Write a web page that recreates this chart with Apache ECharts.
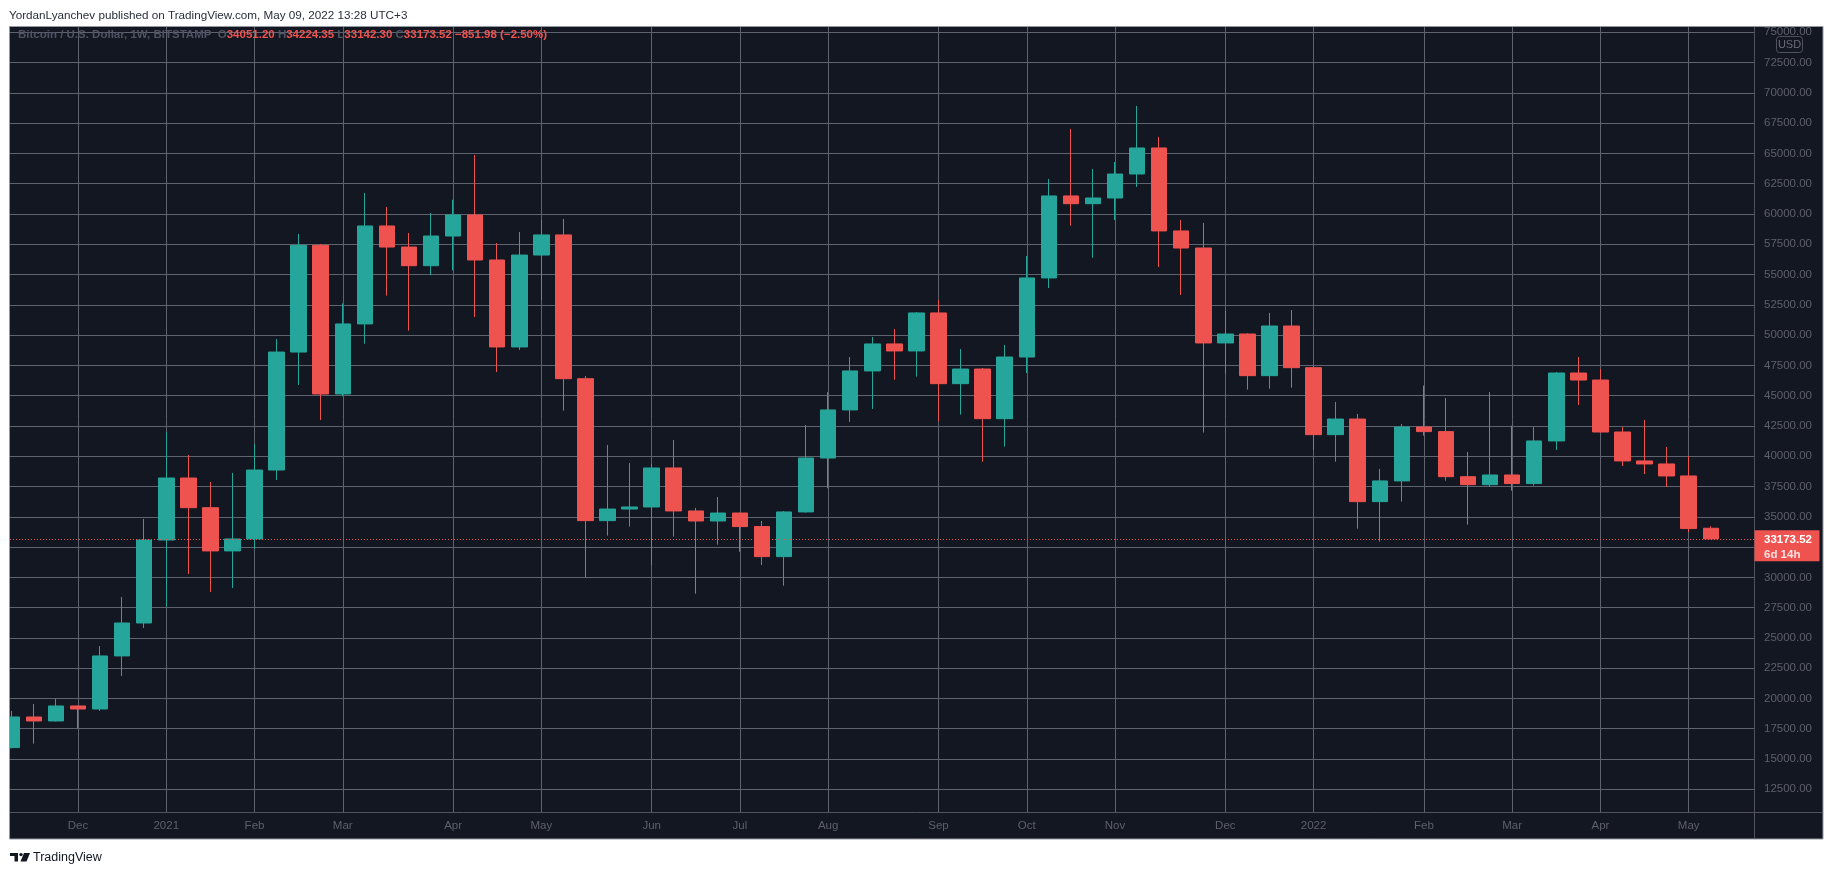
<!DOCTYPE html>
<html>
<head>
<meta charset="utf-8">
<title>BTCUSD 1W</title>
<script src="https://cdn.jsdelivr.net/npm/echarts@6/dist/echarts.min.js"></script>
<style>
  html, body { margin: 0; padding: 0; background: #fff; }
  #main { width: 1834px; height: 875px; }
</style>
</head>
<body>
<div id="main"></div>
<script>
// 周线日期（每根K线的开盘周一）
const weeks = [
  '2020-11-16','2020-11-23','2020-11-30','2020-12-07','2020-12-14','2020-12-21','2020-12-28',
  '2021-01-04','2021-01-11','2021-01-18','2021-01-25','2021-02-01','2021-02-08','2021-02-15','2021-02-22',
  '2021-03-01','2021-03-08','2021-03-15','2021-03-22','2021-03-29','2021-04-05','2021-04-12','2021-04-19','2021-04-26',
  '2021-05-03','2021-05-10','2021-05-17','2021-05-24','2021-05-31','2021-06-07','2021-06-14','2021-06-21','2021-06-28',
  '2021-07-05','2021-07-12','2021-07-19','2021-07-26','2021-08-02','2021-08-09','2021-08-16','2021-08-23','2021-08-30',
  '2021-09-06','2021-09-13','2021-09-20','2021-09-27','2021-10-04','2021-10-11','2021-10-18','2021-10-25',
  '2021-11-01','2021-11-08','2021-11-15','2021-11-22','2021-11-29','2021-12-06','2021-12-13','2021-12-20','2021-12-27',
  '2022-01-03','2022-01-10','2022-01-17','2022-01-24','2022-01-31','2022-02-07','2022-02-14','2022-02-21','2022-02-28',
  '2022-03-07','2022-03-14','2022-03-21','2022-03-28','2022-04-04','2022-04-11','2022-04-18','2022-04-25','2022-05-02','2022-05-09'
];
const opens = [
  15940,18470,18140,19380,19130,23510,26230,33080,38200,35750,
  32180,33170,38860,48600,57410,45140,50920,59010,57270,55730,
  58180,59920,56200,49020,56610,58270,46400,34680,35640,35810,
  39030,35480,34650,35310,34190,31710,35400,39850,43820,47040,
  49270,48690,51830,45990,47200,43100,48190,54720,61490,60850,
  61320,63300,65450,58600,57190,49350,50090,46650,50750,47310,
  41780,43070,36250,37960,42410,42030,38310,37650,38450,37740,
  41260,46870,46290,42000,39610,39360,38370,34051.20
];
const highs = [
  18970,19540,19960,19420,24330,28380,34820,42000,40100,37870,
  38620,41010,49680,58350,57520,52620,61730,60580,58430,60080,
  61180,64870,57600,58510,59530,59590,46620,40930,39440,39360,
  41340,35730,36630,35330,34650,35480,42580,45280,48190,49840,
  50500,51910,52900,48850,47290,49180,56530,62890,67020,63710,
  64290,68920,66360,59500,59260,51990,50150,51830,52070,47500,
  44480,43490,38950,42660,45830,44810,40350,45300,42520,42410,
  46950,48190,47200,42410,42990,40760,40020,34224.35
];
const lows = [
  15880,16270,18100,17540,18970,21860,25820,27580,30280,28790,
  29120,32340,38040,45880,42990,44950,49290,53260,50370,54940,
  55350,51500,46950,48770,52900,43760,30030,33440,34190,31020,
  33360,28650,32700,32120,31020,29310,35340,37350,42830,43900,
  46320,46570,42910,43430,39550,40790,46870,53890,59040,56390,
  59500,62230,55620,53310,41950,46820,45500,45580,45660,40540,
  39550,34020,32950,36250,41700,37980,34350,37490,37160,37570,
  40520,44230,41950,39190,38530,37460,33740,33142.30
];
const closes = [
  18470,18140,19380,19130,23510,26230,33080,38200,35750,32180,
  33170,38860,48600,57410,45140,50920,59010,57270,55730,58180,
  59920,56200,49020,56610,58270,46400,34680,35640,35810,39030,
  35480,34650,35310,34190,31710,35400,39850,43820,47040,49270,
  48690,51830,45990,47200,43100,48190,54720,61490,60850,61320,
  63300,65450,58600,57190,49350,50090,46650,50750,47310,41780,
  43070,36250,37960,42410,42030,38310,37650,38450,37740,41260,
  46870,46290,42000,39610,39360,38370,34025.50,33173.52
];
const priceTicks = [12500,15000,17500,20000,22500,25000,27500,30000,32500,35000,37500,
  40000,42500,45000,47500,50000,52500,55000,57500,60000,62500,65000,67500,70000,72500,75000];
const monthNames = ['Jan','Feb','Mar','Apr','May','Jun','Jul','Aug','Sep','Oct','Nov','Dec'];

// 每个月第一根K线处画时间刻度
const monthTicks = [];
const monthLabels = {};
weeks.forEach((w, i) => {
  if (i === 0) return;
  const m = +w.slice(5, 7);
  if (m !== +weeks[i - 1].slice(5, 7)) {
    monthTicks.push(i);
    monthLabels[i] = m === 1 ? w.slice(0, 4) : monthNames[m - 1];
  }
});

const candles = weeks.map((w, i) => [i, opens[i], closes[i], lows[i], highs[i]]);
const last = weeks.length - 1;
const lastClose = closes[last];
const change = lastClose - closes[last - 1];
const pct = change / closes[last - 1] * 100;
const fmt = v => v.toFixed(2).replace('-', '\u2212');

const UP = '#26a69a';
const DOWN = '#ef5350';
const FONT = 'Liberation Sans';
const GRID_LEFT = 10, GRID_TOP = 27, GRID_RIGHT = 1754, GRID_BOTTOM = 812;

const chart = echarts.init(document.getElementById('main'));

const staticGraphics = [
  {
    id: 'pane', type: 'rect', z: -100, silent: true,
    shape: { x: 9.5, y: 26.5, width: 1813.5, height: 812.5 },
    style: { fill: '#131722' }
  },
  // 左侧遮挡被裁掉的半根K线
  {
    id: 'maskLeft', type: 'rect', zlevel: 1, silent: true,
    shape: { x: 0, y: 20, width: 9.5, height: 830 },
    style: { fill: '#ffffff' }
  },
  {
    id: 'paneBorder', type: 'rect', zlevel: 1, silent: true,
    shape: { x: 9.5, y: 26.5, width: 1813.5, height: 812.5 },
    style: { fill: null, stroke: '#9598a1', lineWidth: 1 }
  },
  {
    id: 'sepV', type: 'line', zlevel: 1, silent: true,
    shape: { x1: GRID_RIGHT + 0.5, y1: 27, x2: GRID_RIGHT + 0.5, y2: 839 },
    style: { stroke: '#50535e', lineWidth: 1 }
  },
  {
    id: 'sepH', type: 'line', zlevel: 1, silent: true,
    shape: { x1: 10, y1: GRID_BOTTOM + 0.5, x2: 1823, y2: GRID_BOTTOM + 0.5 },
    style: { stroke: '#50535e', lineWidth: 1 }
  },
  {
    id: 'header', type: 'text', silent: true,
    style: {
      x: 9, y: 15.5, text: 'YordanLyanchev published on TradingView.com, May 09, 2022 13:28 UTC+3',
      fill: '#2a2e39', font: '11.7px "' + FONT + '"', verticalAlign: 'middle'
    }
  },
  {
    id: 'usdBox', type: 'rect', zlevel: 1, silent: true,
    shape: { x: 1776.5, y: 36.5, width: 26, height: 16, r: 3 },
    style: { fill: '#131722', stroke: '#50535e', lineWidth: 1 }
  },
  {
    id: 'usdText', type: 'text', zlevel: 1, z: 5, silent: true,
    style: {
      x: 1789.5, y: 44.5, text: 'USD', fill: '#6a6d78',
      font: '11px "' + FONT + '"', align: 'center', verticalAlign: 'middle'
    }
  },
  // TradingView 标志
  {
    id: 'logo', type: 'group', silent: true,
    children: [
      { type: 'rect', shape: { x: 10, y: 853, width: 8, height: 3 }, style: { fill: '#131722' } },
      { type: 'rect', shape: { x: 14.5, y: 853, width: 3.5, height: 8.5 }, style: { fill: '#131722' } },
      { type: 'circle', shape: { cx: 21, cy: 854.6, r: 1.7 }, style: { fill: '#131722' } },
      { type: 'polygon', shape: { points: [[24, 853], [30, 853], [26.5, 861.5], [20.5, 861.5]] }, style: { fill: '#131722' } }
    ]
  },
  {
    id: 'footer', type: 'text', silent: true,
    style: {
      x: 33, y: 857.5, text: 'TradingView', fill: '#131722',
      font: '12.5px "' + FONT + '"', verticalAlign: 'middle'
    }
  }
];

const option = {
  animation: false,
  backgroundColor: '#ffffff',
  textStyle: { fontFamily: FONT },
  title: {
    left: 18, top: 27, padding: 0,
    text: '{n|Bitcoin / U.S. Dollar, 1W, BITSTAMP}  {k|O}{v|' + fmt(opens[last]) + '} {k|H}{v|' + fmt(highs[last]) +
      '} {k|L}{v|' + fmt(lows[last]) + '} {k|C}{v|' + fmt(lastClose) + '} {v|' + fmt(change) + ' (' + fmt(pct) + '%)}',
    textStyle: {
      fontSize: 11.5, lineHeight: 15,
      rich: {
        n: { color: '#4f5363', fontSize: 11.5, fontFamily: FONT },
        k: { color: '#4f5363', fontSize: 11.5, fontFamily: FONT },
        v: { color: DOWN, fontSize: 11.5, fontFamily: FONT }
      }
    }
  },
  grid: {
    left: GRID_LEFT, top: GRID_TOP,
    width: GRID_RIGHT - GRID_LEFT, height: GRID_BOTTOM - GRID_TOP,
    show: false
  },
  xAxis: {
    type: 'value',
    min: -0.082, max: 78.96,
    axisLine: { show: false },
    axisTick: { show: false, customValues: monthTicks },
    axisLabel: {
      customValues: monthTicks,
      formatter: v => monthLabels[v] || '',
      color: '#5d606b', fontSize: 11.5, fontFamily: FONT, margin: 8
    },
    splitLine: { show: true, customValues: monthTicks, lineStyle: { color: '#5f636f', width: 1 } }
  },
  yAxis: {
    type: 'value',
    position: 'right',
    min: 10625, max: 75437,
    axisLine: { show: false },
    axisTick: { show: false, customValues: priceTicks },
    axisLabel: {
      customValues: priceTicks,
      formatter: v => v.toFixed(2),
      color: '#5d606b', fontSize: 11.5, fontFamily: FONT, margin: 10
    },
    splitLine: { show: true, customValues: priceTicks, lineStyle: { color: '#5f636f', width: 1 } }
  },
  series: [{
    type: 'candlestick',
    data: candles,
    barWidth: 16,
    clip: true,
    itemStyle: {
      color: UP, color0: DOWN,
      borderColor: UP, borderColor0: DOWN,
      borderWidth: 1
    },
    markLine: {
      silent: true,
      symbol: ['none', 'none'],
      label: { show: false },
      lineStyle: { color: DOWN, type: [1, 2], width: 1 },
      data: [{ yAxis: lastClose }]
    }
  }],
  graphic: staticGraphics
};

chart.setOption(option);

// 右侧最新价格标签（盖住被遮挡的刻度）
const py = chart.convertToPixel({ yAxisIndex: 0 }, lastClose);
chart.setOption({
  graphic: staticGraphics.concat([
    {
      id: 'tagBox', type: 'rect', zlevel: 2, silent: true,
      shape: { x: GRID_RIGHT + 0.5, y: py - 8.6, width: 65, height: 31 },
      style: { fill: DOWN }
    },
    {
      id: 'tagPrice', type: 'text', zlevel: 2, z: 5, silent: true,
      style: { x: 1764, y: py + 0.5, text: fmt(lastClose), fill: '#ffffff',
        font: 'bold 11.5px "' + FONT + '"', verticalAlign: 'middle' }
    },
    {
      id: 'tagTime', type: 'text', zlevel: 2, z: 5, silent: true,
      style: { x: 1764, y: py + 15.5, text: '6d 14h', fill: '#fde2e2',
        font: 'bold 11.5px "' + FONT + '"', verticalAlign: 'middle' }
    }
  ])
});
</script>
</body>
</html>
